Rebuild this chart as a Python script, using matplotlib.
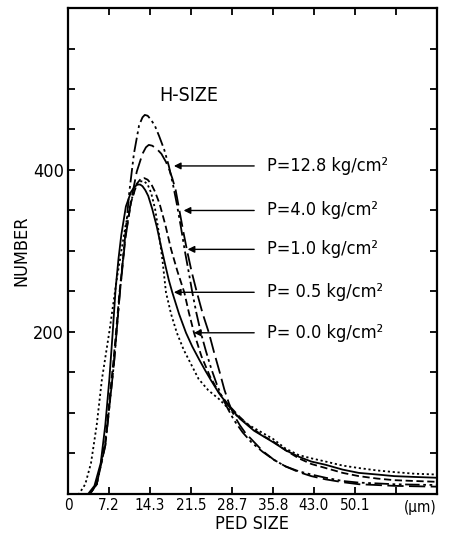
import matplotlib
matplotlib.use('Agg')
import matplotlib.pyplot as plt

plt.rcParams['font.family'] = ['DejaVu Sans']
plt.rcParams['font.stretch'] = 'condensed'

# ped size (um) / number
x_128 = [0, 3.8, 5, 6.5, 8, 9, 10, 10.7, 11.5, 12.4, 13.0, 13.4, 13.9, 14.5, 15.2, 15.9, 16.8, 17.6, 18.3, 19.0, 19.7, 20.4, 21.1, 21.7, 22.4, 23.2, 24.1, 25, 26, 27, 28, 29, 30.5, 32, 34, 36, 38, 40.3, 42.5, 45, 48, 50.8, 54, 57, 60.5, 64.4]
y_128 = [0, 0, 12, 60, 160, 245, 320, 373, 420, 455, 465, 468, 467, 462, 454, 442, 425, 405, 383, 358, 330, 300, 273, 249, 224, 199, 176, 155, 135, 118, 104, 91, 76, 64, 52, 42, 34, 28, 24, 20, 16, 14, 13, 12, 11.5, 11]

x_40 = [0, 3.8, 5, 6.5, 8, 9, 10, 11, 12, 13, 13.6, 14.1, 14.7, 15.5, 16.3, 17.1, 17.7, 18.2, 18.8, 19.4, 20.1, 20.8, 21.6, 22.5, 23.5, 24.6, 25.5, 26.5, 27.3, 28.1, 29, 30, 31, 32.1, 34, 36, 38, 40.3, 42.5, 45, 48, 50.8, 54, 57, 60.5, 64.4]
y_40 = [0, 0, 12, 60, 160, 245, 315, 362, 398, 420, 428, 431, 430, 426, 420, 410, 400, 390, 375, 352, 325, 300, 274, 249, 223, 199, 175, 150, 129, 112, 97, 85, 75, 67, 53, 42, 34, 27, 22, 18, 14.5, 12, 11, 10, 9.5, 9]

x_10 = [0, 3.8, 5, 6.5, 8, 9, 10, 11, 12, 12.7, 13.3, 13.9, 14.5, 15.2, 16, 17, 18, 19.1, 20.3, 21.1, 22, 23.3, 24.8, 26.3, 28, 30, 32, 34, 35.8, 38, 40.3, 42.5, 45, 48, 50.8, 54, 57, 60.5, 64.4]
y_10 = [0, 0, 12, 65, 170, 250, 318, 360, 383, 389, 390, 388, 383, 373, 358, 332, 302, 275, 249, 224, 199, 170, 145, 126, 110, 95, 82, 72, 65, 54, 44, 37, 32, 26, 22, 19, 17, 16, 15]

x_05 = [0, 3.5, 4.6, 5.7, 6.5, 7.2, 7.8, 8.3, 8.8, 9.3, 10.1, 11, 11.6, 12.1, 12.6, 13, 13.5, 14, 14.7, 15.5, 16.2, 17, 17.6, 18.2, 19.4, 20.6, 21.7, 22.9, 24, 25, 26.4, 28, 30, 32.5, 35.8, 38, 40.3, 42.5, 45, 48, 50.8, 54, 57, 60.5, 64.4]
y_05 = [0, 0, 10, 38, 85, 141, 200, 253, 290, 320, 355, 373, 379, 382, 382, 380, 375, 368, 352, 330, 307, 282, 264, 249, 222, 199, 182, 166, 152, 140, 124, 109, 93, 78, 64, 54, 46, 40, 36, 30, 26, 24, 22, 21, 20]

x_00 = [0, 1.9, 3.0, 4.0, 5.0, 5.9, 7.2, 8.5, 10, 11, 12, 12.7, 13.3, 13.9, 14.5, 15.2, 15.8, 16.5, 17.1, 18.0, 19.0, 20.2, 21.5, 22.8, 24.5, 26.4, 28.5, 31.6, 35.8, 38, 40.3, 42.5, 45, 48, 50.8, 54, 57, 60.5, 64.4]
y_00 = [0, 0, 12, 38, 85, 141, 200, 265, 330, 362, 382, 386, 386, 382, 372, 352, 325, 288, 249, 222, 199, 178, 160, 142, 128, 117, 102, 85, 68, 56, 48, 44, 40, 35, 32, 29, 27, 25, 24]

xtick_pos = [0, 7.16, 14.32, 21.48, 28.64, 35.8, 42.96, 50.12, 57.28, 64.44]
xtick_labels = ['0', '7.2', '14.3', '21.5', '28.7', '35.8', '43.0', '50.1', '', '']

labels = ['P=12.8 kg/cm²', 'P=4.0 kg/cm²', 'P=1.0 kg/cm²', 'P= 0.5 kg/cm²', 'P= 0.0 kg/cm²']
label_y = [405, 350, 302, 249, 199]
arrow_tip_x = [18.0, 19.7, 20.4, 18.0, 21.5]

fig = plt.figure(figsize=(4.57, 5.34), dpi=100)
ax = fig.add_axes([0.149, 0.075, 0.807, 0.910])

lw = 1.3
ax.plot(x_128, y_128, color='black', lw=lw, ls=(0, (8, 2, 1.5, 2, 1.5, 2)))
ax.plot(x_40, y_40, color='black', lw=lw, ls=(0, (9, 3)))
ax.plot(x_10, y_10, color='black', lw=lw, ls=(0, (4, 2)))
ax.plot(x_05, y_05, color='black', lw=lw, ls='-')
ax.plot(x_00, y_00, color='black', lw=lw, ls=(0, (1.2, 1.5)))

for lab, ly, tx in zip(labels, label_y, arrow_tip_x):
    ax.annotate('', xy=(tx, ly), xytext=(33.0, ly),
                arrowprops=dict(arrowstyle='-|>', color='black', lw=1, mutation_scale=10))
    ax.text(34.8, ly, lab, fontsize=13, va='center', ha='left')

ax.text(21.0, 492, 'H-SIZE', fontsize=14, ha='center', va='center')

ax.set_xlim(0, 64.44)
ax.set_ylim(0, 600)
ax.set_xticks(xtick_pos)
ax.set_xticklabels(xtick_labels, fontsize=11)
ax.set_yticks(range(0, 601, 50))
ax.set_yticklabels(['200' if v == 200 else '400' if v == 400 else '' for v in range(0, 601, 50)], fontsize=13)
ax.tick_params(direction='in', length=5, width=1.3, top=True, right=True, pad=3)
for s in ax.spines.values():
    s.set_linewidth(1.6)

ax.text(61.5, -8, '(μm)', fontsize=11, ha='center', va='top')
ax.set_xlabel('PED SIZE', fontsize=13, labelpad=1)
ax.set_ylabel('NUMBER', fontsize=13, labelpad=2)

plt.savefig('out.png', dpi=100)
plt.close()
